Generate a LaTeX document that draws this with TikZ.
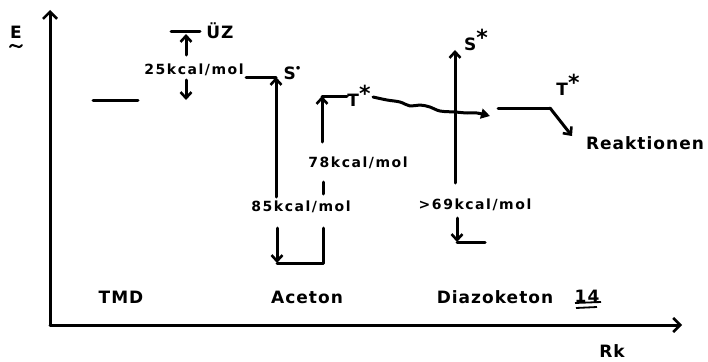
\documentclass[tikz,border=0pt]{standalone}
\usepackage{fontspec}
\setmainfont{DejaVu Sans}
\usetikzlibrary{arrows.meta}
\tikzset{
  ln/.style={line width=3pt, line cap=round, line join=round},
  arr/.style={ln, -{Straight Barb[length=6pt,width=11pt,line width=2.6pt]}},
  bigarr/.style={ln, -{Straight Barb[length=7pt,width=14pt,line width=2.6pt]}},
  lbl/.style={font=\bfseries\fontsize{17}{17}\selectfont\addfontfeature{LetterSpace=6}, inner sep=0pt},
  kc/.style={font=\bfseries\fontsize{14}{14}\selectfont\addfontfeature{LetterSpace=11}, inner sep=0pt},
}
\newcommand{\bstar}{\raisebox{0.3em}{\fontsize{22}{22}\selectfont *}}
\begin{document}
\begin{tikzpicture}[x=1pt,y=-1pt]
\useasboundingbox (0,0) rectangle (708,361);
% axes
\coordinate (O) at (50,325);
\coordinate (ytop) at (50,10);
\coordinate (xend) at (682,325);
\draw[bigarr] (O) -- (ytop);
\draw[bigarr] (O) -- (xend);
\node[lbl] (E) at (16,32) {E};
\coordinate (tilA) at (10,47); \coordinate (tilB) at (22,45);
\draw[line width=2pt, line cap=round] (tilA) .. controls (13,41) and (18,51) .. (tilB);
\node[lbl] (Rk) at (612,351) {Rk};
% compound labels
\node[lbl] (TMD) at (121,297) {TMD};
\node[lbl] (Aceton) at (307,297) {Aceton};
\node[lbl] (Diaz) at (495,297) {Diazoketon};
\node[lbl] (n14) at (587,296) {14};
\coordinate (u1a) at (575,303); \coordinate (u1b) at (601,302);
\coordinate (u2a) at (576,308); \coordinate (u2b) at (597,307);
\draw[line width=1.8pt] (u1a) -- (u1b);
\draw[line width=1.8pt] (u2a) -- (u2b);
% TMD
\coordinate (tmdA) at (93,100); \coordinate (tmdB) at (138,100);
\draw[ln] (tmdA) -- (tmdB);
\coordinate (uzA) at (171,32); \coordinate (uzB) at (200,32);
\draw[ln] (uzA) -- (uzB);
\node[lbl] (UZ) at (220,31) {ÜZ};
\coordinate (uzup0) at (186,55); \coordinate (uzup1) at (186,34);
\draw[arr] (uzup0) -- (uzup1);
\node[kc] (k25) at (194,70) {25kcal/mol};
\coordinate (dn0) at (186,80); \coordinate (dn1) at (186,100);
\draw[arr] (dn0) -- (dn1);
% Aceton
\coordinate (sA) at (246,77); \coordinate (sB) at (276,77);
\coordinate (sBot) at (276,197);
\draw[ln] (sA) -- (sB);
\draw[arr] (sBot) -- (sB);
\node[lbl] (S0) at (292,73) {S\raisebox{0.55em}{\fontsize{9}{9}\selectfont$\bullet$}};
\node[kc] (k85) at (301,207) {85kcal/mol};
\coordinate (gTop) at (277,228); \coordinate (gL) at (277,263);
\coordinate (gR) at (323,263); \coordinate (gRt) at (323,228);
\draw[arr] (gTop) -- (gL);
\draw[ln] (gL) -- (gR) -- (gRt);
\coordinate (m1) at (323,182); \coordinate (m2) at (323,194);
\draw[ln] (m1) -- (m2);
\node[kc] (k78) at (358,163) {78kcal/mol};
\coordinate (tUp0) at (322,142); \coordinate (tUp1) at (322,96);
\coordinate (tR) at (347,96);
\draw[arr] (tUp0) -- (tUp1);
\draw[ln] (tUp1) -- (tR);
\node[lbl] (T1) at (359,96) {T\bstar};
% wavy arrow
\draw[ln, -{Triangle[length=9pt,width=10pt]}] plot[smooth, tension=0.6] coordinates {
 (373,97) (387,100) (400,102) (410,106) (420,105) (430,107) (440,111) (455,112) (467,113) (477,113) (490,116)};
% Diazoketon
\coordinate (dS0) at (455,183); \coordinate (dS1) at (455,50);
\draw[arr] (dS0) -- (dS1);
\node[lbl] (S1) at (476,40) {S\bstar};
\node[kc] (k69) at (475,205) {>69kcal/mol};
\coordinate (dd0) at (457,218); \coordinate (dd1) at (457,242); \coordinate (dd2) at (485,242);
\draw[arr] (dd0) -- (dd1);
\draw[ln] (dd1) -- (dd2);
% T* right
\coordinate (tr0) at (498,108); \coordinate (tr1) at (550,108); \coordinate (tr2) at (572,136);
\draw[ln] (tr0) -- (tr1);
\draw[arr] (tr1) -- (tr2);
\node[lbl] (T2) at (568,85) {T\bstar};
\node[lbl] (Reak) at (645,143) {Reaktionen};
\end{tikzpicture}
\end{document}
